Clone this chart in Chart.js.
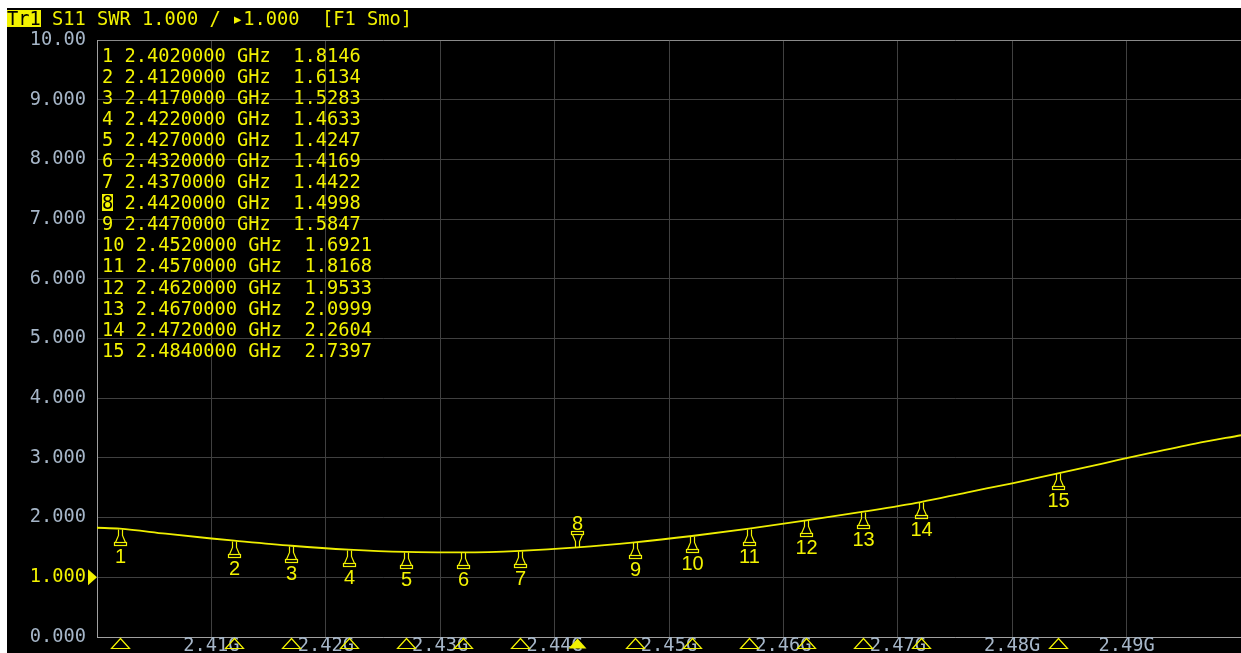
<!DOCTYPE html>
<html>
<head>
<meta charset="utf-8">
<title>S11 SWR</title>
<script src="https://cdn.jsdelivr.net/npm/chart.js"></script>
<style>
  body { margin: 0; background: #fff; width: 1241px; height: 653px; overflow: hidden; }
  #screen { position: absolute; left: 7px; top: 8px; width: 1234px; height: 645px; background: #000; overflow: hidden; }
  #myChart { position: absolute; left: 0; top: 0; }
  .mono { position: absolute; font-family: "DejaVu Sans Mono", "Liberation Mono", monospace; font-size: 18.7px; color: #f2f200; white-space: pre; }
  #header { left: 0; top: 1px; line-height: 19px; }
  #table { left: 95px; top: 37px; line-height: 21.05px; }
  .hl { display: inline-block; background: #f2f200; color: #000; line-height: 17px; height: 17px; }
</style>
</head>
<body>
<div id="screen">
  <!-- canvas runs a little past the bottom of the screen so the axis labels get clipped like the original -->
  <canvas id="myChart" width="1234" height="659"></canvas>
  <div id="header" class="mono"><span class="hl">Tr1</span> S11 SWR 1.000 / ▸1.000  [F1 Smo]</div>
  <div id="table" class="mono"></div>
</div>
<script>
// trace (GHz / SWR)
var freqs = [2.400, 2.402, 2.406, 2.410, 2.412, 2.417, 2.422, 2.427, 2.432, 2.437, 2.442, 2.447,
  2.452, 2.457, 2.462, 2.467, 2.472, 2.476, 2.480, 2.484, 2.488, 2.492, 2.496, 2.500];
var swr = [1.83, 1.8146, 1.73, 1.65, 1.6134, 1.5283, 1.4633, 1.4247, 1.4169, 1.4422, 1.4998, 1.5847,
  1.6921, 1.8168, 1.9533, 2.0999, 2.2604, 2.42, 2.575, 2.7397, 2.91, 3.08, 3.24, 3.38];

// markers
var markerFreq = [2.402, 2.412, 2.417, 2.422, 2.427, 2.432, 2.437, 2.442, 2.447, 2.452, 2.457, 2.462, 2.467, 2.472, 2.484];
var markerSwr = [1.8146, 1.6134, 1.5283, 1.4633, 1.4247, 1.4169, 1.4422, 1.4998, 1.5847, 1.6921, 1.8168, 1.9533, 2.0999, 2.2604, 2.7397];
var activeMarker = 8;
var refLevel = 1.0;

var xTickLabels = ["", "2.41G", "2.42G", "2.43G", "2.44G", "2.45G", "2.46G", "2.47G", "2.48G", "2.49G", ""];
var yTickLabels = ["0.000", "1.000", "2.000", "3.000", "4.000", "5.000", "6.000", "7.000", "8.000", "9.000", "10.00"];

var yellow = "#f2f200";
var traceYellow = "#eeee00";
var labelGrey = "#a6b6c8";
var monoFont = '"DejaVu Sans Mono", "Liberation Mono", monospace';

// marker table
var rows = [];
for (var i = 0; i < markerFreq.length; i++) {
  var n = String(i + 1);
  if (i + 1 === activeMarker) n = '<span class="hl">' + n + "</span>";
  rows.push(n + " " + markerFreq[i].toFixed(7) + " GHz  " + markerSwr[i].toFixed(4));
}
document.getElementById("table").innerHTML = rows.join("\n");

function drawSymbol(ctx, x, y, dir) {
  // dir 1 hangs below the trace, -1 sits above it
  ctx.beginPath();
  ctx.moveTo(x - 2, y);
  ctx.lineTo(x - 2, y + dir * 6);
  ctx.lineTo(x - 5, y + dir * 13);
  ctx.lineTo(x + 5, y + dir * 13);
  ctx.lineTo(x + 2, y + dir * 6);
  ctx.lineTo(x + 2, y);
  ctx.stroke();
  ctx.strokeRect(x - 6, y + dir * 13, 12, dir * 3);
}

var markerPlugin = {
  id: "markers",
  afterDatasetsDraw: function (chart) {
    var ctx = chart.ctx;
    var xs = chart.scales.x;
    var ys = chart.scales.y;
    var area = chart.chartArea;
    ctx.save();
    ctx.strokeStyle = yellow;
    ctx.fillStyle = yellow;
    ctx.lineWidth = 1.2;
    ctx.font = '20px "Liberation Sans", sans-serif';
    ctx.textAlign = "center";
    ctx.textBaseline = "alphabetic";
    for (var i = 0; i < markerFreq.length; i++) {
      var x = Math.round(xs.getPixelForValue(markerFreq[i])) + 0.5;
      var y = Math.round(ys.getPixelForValue(markerSwr[i])) + 0.5;
      if (i + 1 === activeMarker) {
        drawSymbol(ctx, x, y, -1);
        ctx.fillText(String(i + 1), x, y - 18);
      } else {
        drawSymbol(ctx, x, y, 1);
        ctx.fillText(String(i + 1), x, y + 33);
      }
      // small triangles under the frequency axis
      var by = area.bottom + 1.5;
      ctx.beginPath();
      ctx.moveTo(x, by);
      ctx.lineTo(x - 9, by + 10);
      ctx.lineTo(x + 9, by + 10);
      ctx.closePath();
      if (i + 1 === activeMarker) ctx.fill(); else ctx.stroke();
    }
    // reference level pointer
    var ry = ys.getPixelForValue(refLevel);
    ctx.beginPath();
    ctx.moveTo(area.left, ry);
    ctx.lineTo(area.left - 9, ry - 8);
    ctx.lineTo(area.left - 9, ry + 8);
    ctx.closePath();
    ctx.fill();
    ctx.restore();
  },
};

var points = freqs.map(function (f, i) { return { x: f, y: swr[i] }; });

new Chart("myChart", {
  type: "line",
  data: {
    datasets: [
      {
        data: points,
        borderColor: traceYellow,
        borderWidth: 1.8,
        pointRadius: 0,
        cubicInterpolationMode: "monotone",
      },
    ],
  },
  options: {
    responsive: false,
    animation: false,
    layout: { padding: { top: 32, right: 0, left: 0, bottom: 0 } },
    plugins: { legend: { display: false }, tooltip: { enabled: false } },
    scales: {
      x: {
        type: "linear",
        min: 2.40,
        max: 2.50,
        afterFit: function (scale) { scale.height = 30; },
        ticks: {
          stepSize: 0.01,
          autoSkip: false,
          maxRotation: 0,
          padding: -2,
          color: labelGrey,
          font: { family: monoFont, size: 18.7 },
          callback: function (value, index) { return xTickLabels[index]; },
        },
        grid: { color: "#404040", drawTicks: false },
        border: { color: "#a0a0a0", width: 1 },
      },
      y: {
        min: 0,
        max: 10,
        afterFit: function (scale) { scale.width = 90; },
        ticks: {
          stepSize: 1,
          padding: 0,
          color: function (c) { return c.tick && c.tick.value === refLevel ? yellow : labelGrey; },
          font: { family: monoFont, size: 18.7 },
          callback: function (value, index) { return yTickLabels[index]; },
        },
        grid: {
          color: function (c) { return c.tick && c.tick.value === 10 ? "#8a8a8a" : "#404040"; },
          tickLength: 11,
          tickColor: "rgba(0,0,0,0)",
        },
        border: { color: "#a0a0a0", width: 1 },
      },
    },
  },
  plugins: [markerPlugin],
});
</script>
</body>
</html>
